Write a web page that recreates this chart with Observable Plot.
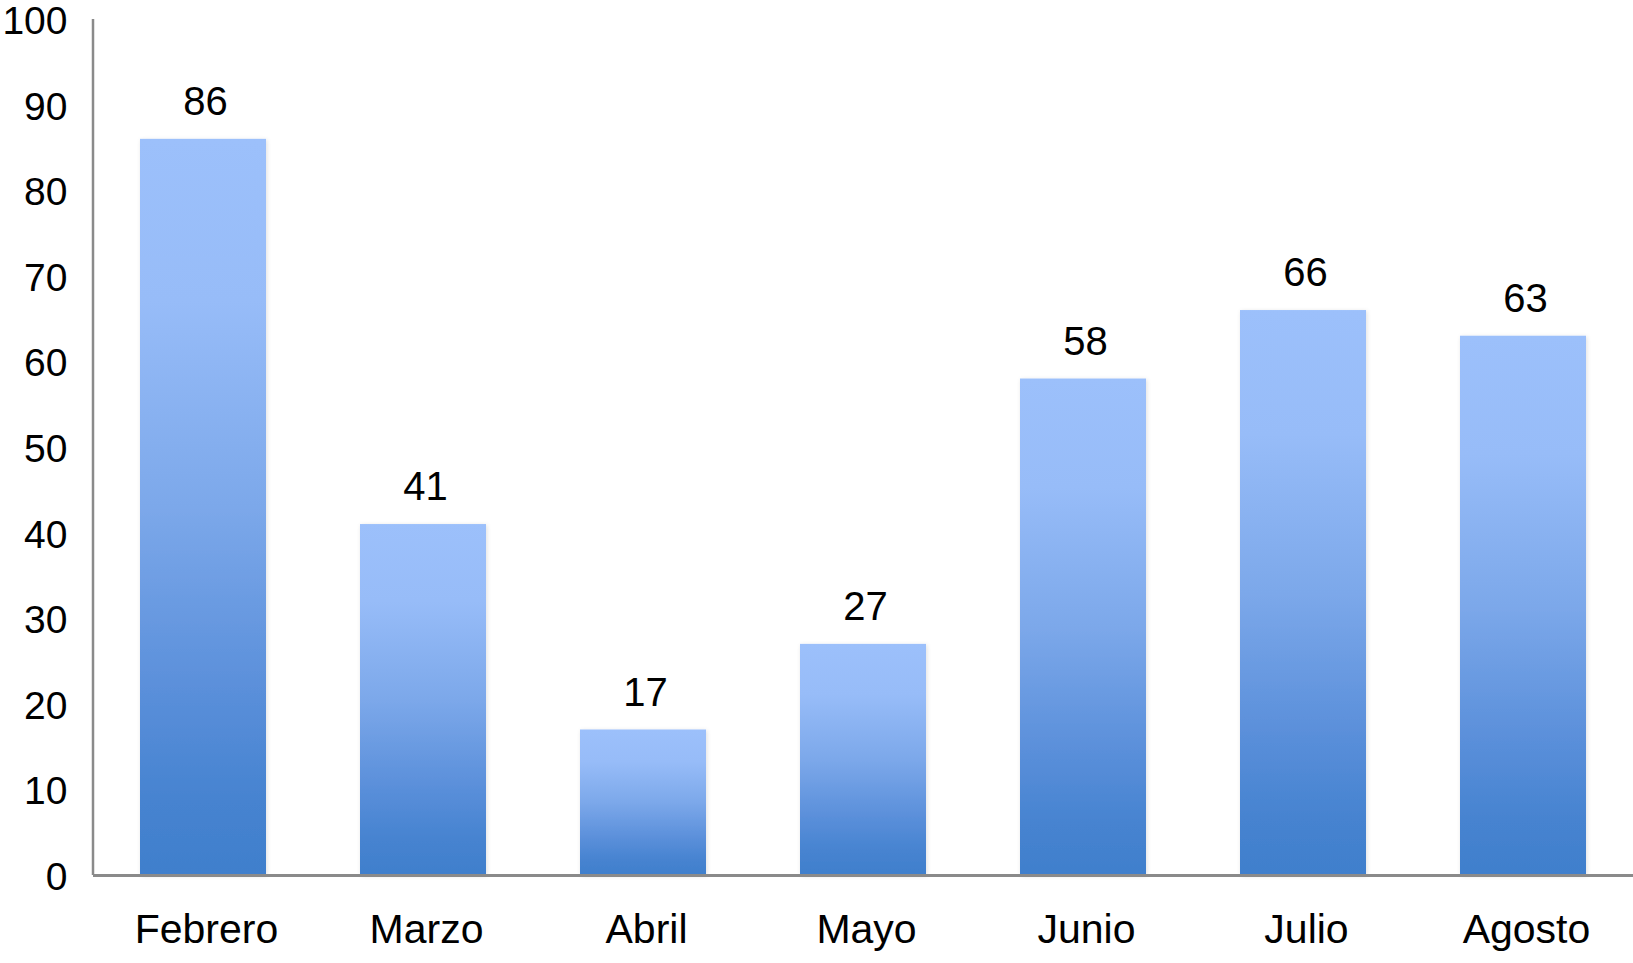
<!DOCTYPE html>
<html>
<head>
<meta charset="utf-8">
<script src="https://cdn.jsdelivr.net/npm/d3@7"></script>
<script src="https://cdn.jsdelivr.net/npm/@observablehq/plot@0.6"></script>
<style>
  html, body { margin: 0; padding: 0; background: #fff; }
  #chart svg { display: block; }
</style>
</head>
<body>
<div id="chart"></div>
<script>
const months = ["Febrero", "Marzo", "Abril", "Mayo", "Junio", "Julio", "Agosto"];
const values = [86, 41, 17, 27, 58, 66, 63];
const yTicks = [0, 10, 20, 30, 40, 50, 60, 70, 80, 90, 100];

const data = months.map((m, i) => ({month: m, value: values[i]}));

const FONT = "'Liberation Sans', Arial, Helvetica, sans-serif";
const AXIS_COLOR = "#8a8a8a";

function defsMark() {
  const ns = "http://www.w3.org/2000/svg";
  const defs = document.createElementNS(ns, "defs");
  const grad = document.createElementNS(ns, "linearGradient");
  grad.setAttribute("id", "barGrad");
  grad.setAttribute("x1", "0"); grad.setAttribute("y1", "0");
  grad.setAttribute("x2", "0"); grad.setAttribute("y2", "1");
  [[0, "#9cc0fb"], [0.22, "#97bcf8"], [0.5, "#7ca8ea"], [0.75, "#5a8fda"], [0.9, "#4683d0"], [1, "#407fcc"]]
    .forEach(([o, c]) => {
      const s = document.createElementNS(ns, "stop");
      s.setAttribute("offset", o);
      s.setAttribute("stop-color", c);
      grad.appendChild(s);
    });
  defs.appendChild(grad);
  const filter = document.createElementNS(ns, "filter");
  filter.setAttribute("id", "barShadow");
  filter.setAttribute("x", "-10%"); filter.setAttribute("y", "-10%");
  filter.setAttribute("width", "120%"); filter.setAttribute("height", "120%");
  const ds = document.createElementNS(ns, "feDropShadow");
  ds.setAttribute("dx", "1"); ds.setAttribute("dy", "1");
  ds.setAttribute("stdDeviation", "2");
  ds.setAttribute("flood-color", "#000");
  ds.setAttribute("flood-opacity", "0.12");
  filter.appendChild(ds);
  defs.appendChild(filter);
  return defs;
}

function leftAxisLine(index, scales, values, dims) {
  const ns = "http://www.w3.org/2000/svg";
  const line = document.createElementNS(ns, "line");
  const x = dims.marginLeft;
  line.setAttribute("x1", x); line.setAttribute("x2", x);
  line.setAttribute("y1", scales.y(100)); line.setAttribute("y2", scales.y(0));
  line.setAttribute("stroke", AXIS_COLOR);
  line.setAttribute("stroke-width", 2.5);
  return line;
}

const chart = Plot.plot({
  width: 1633,
  height: 963,
  marginLeft: 93,
  marginRight: 0,
  marginTop: 19,
  marginBottom: 88,
  style: {fontFamily: FONT, fontSize: "40px", color: "#000", background: "#fff"},
  x: {domain: months, paddingInner: 0.427, paddingOuter: 0.2135, label: null},
  y: {domain: [0, 100], label: null},
  marks: [
    defsMark,
    Plot.barY(data, {x: "month", y: "value", fill: "url(#barGrad)"}),
    leftAxisLine,
    Plot.ruleY([0], {stroke: AXIS_COLOR, strokeWidth: 3}),
    Plot.axisY(yTicks, {tickSize: 0, tickPadding: 26, fontSize: 39, fill: "#000", label: null, dy: 2}),
    Plot.axisX({tickSize: 0, tickPadding: 38, fontSize: 41, fill: "#000", label: null, dx: 3}),
    Plot.text(data, {x: "month", y: "value", text: d => String(d.value), dy: -37, dx: 2, fontSize: 40, fill: "#000"})
  ]
});

chart.querySelectorAll("rect").forEach(r => {
  if (r.getAttribute("fill") === "url(#barGrad)" || (r.parentNode && r.parentNode.getAttribute("fill") === "url(#barGrad)")) {
    r.setAttribute("filter", "url(#barShadow)");
  }
});

document.getElementById("chart").appendChild(chart);
</script>
</body>
</html>
